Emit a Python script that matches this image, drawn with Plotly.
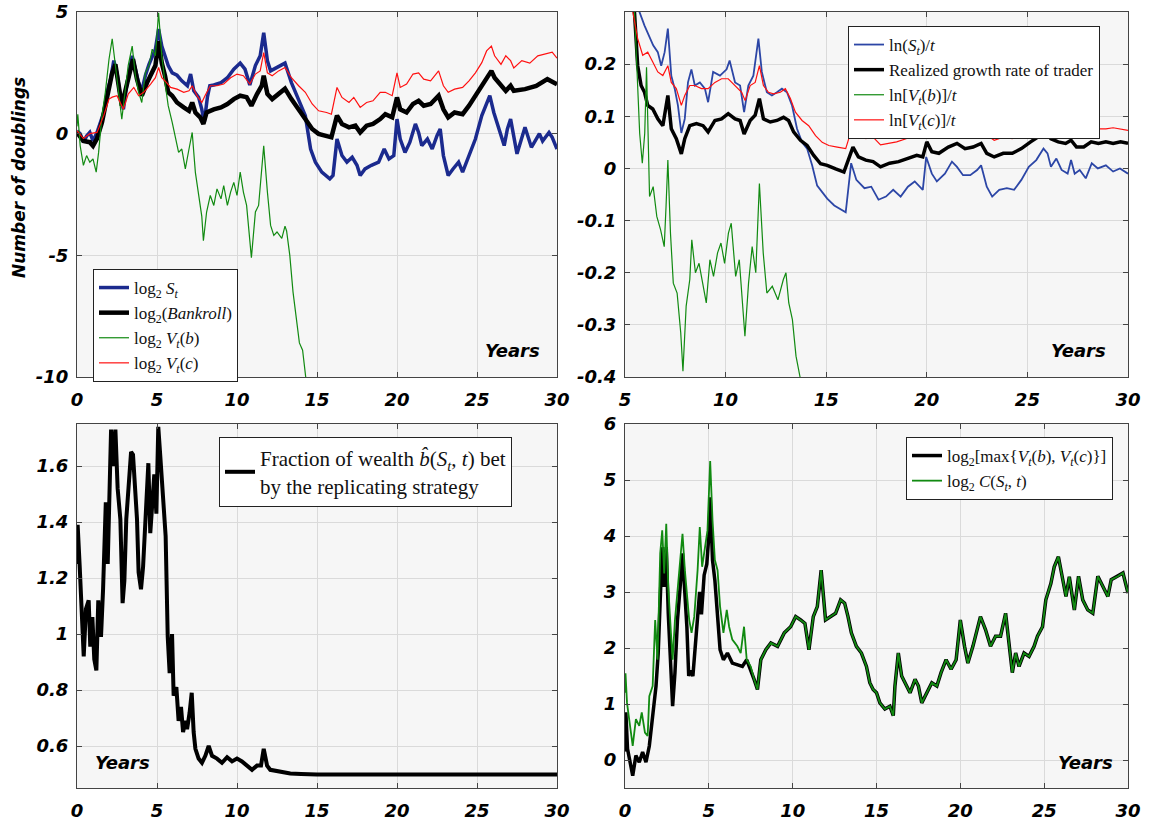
import plotly.graph_objects as go

W, H = 1149, 825

# ---------------- Panel 1: number of doublings ----------------
t_S = [0, 0.2, 0.4, 0.6, 0.8, 1.0, 1.25, 1.45, 1.67, 1.9, 2.1, 2.3, 2.5, 2.7, 2.9, 3.1, 3.45, 3.65, 3.85, 4.05,
       4.27, 4.5, 4.7, 4.9, 5.1, 5.3, 5.5, 5.7, 5.95, 6.25, 6.55, 6.9, 7.1, 7.3, 7.6, 7.8, 7.95, 8.15, 8.3, 8.55,
       9.0, 9.4, 9.8, 10.2, 10.5, 10.8, 11.15, 11.45, 11.67, 11.9, 12.1, 12.4, 12.7, 13.0, 13.4, 13.85, 14.27,
       14.6, 14.9, 15.3, 15.8, 16.0, 16.25, 16.56, 16.87, 17.2, 17.5, 17.7, 18.0, 18.4, 18.85, 19.2, 19.5, 19.8,
       20.0, 20.2, 20.5, 20.8, 21.15, 21.35, 21.55, 21.9, 22.2, 22.5, 22.7, 22.9, 23.2, 23.5, 23.85, 24.1, 24.5,
       24.9, 25.3, 25.6, 25.8, 26.05, 26.4, 26.7, 26.9, 27.1, 27.5, 28.0, 28.4, 28.9, 29.1, 29.5, 29.7, 30.0]
log2_S = [0.12, 0, -0.35, -0.1, 0.05, -0.3, 0.05, 0.45, 0.87, 1.76, 2.24, 3.0, 2.5, 1.55, 1.0, 1.97, 3.2, 2.65,
          2.1, 1.76, 2.38, 2.85, 3.2, 3.47, 4.3, 3.6, 3.2, 2.8, 2.5, 2.4, 2.17, 1.97, 2.45, 1.76, 1.5, 1.0, 0.45,
          1.5, 1.97, 2.0, 2.1, 2.3, 2.65, 2.9, 2.65, 2.0, 2.8, 3.2, 4.15, 3.0, 2.58, 2.7, 2.8, 2.9, 2.1, 1.4, 0.74,
          -0.63, -1.17, -1.58, -1.86, -1.72, -0.22, -0.9, -1.17, -0.97, -1.3, -1.72, -1.45, -1.3, -1.17, -0.63,
          -1.04, -0.9, 0.6, -0.22, -0.77, -0.36, 0.4, 0.05, -0.49, -0.22, -0.63, -0.08, 0.19, -0.9, -1.72, -1.45,
          -1.17, -1.58, -0.9, -0.22, 0.74, 1.28, 1.56, 0.87, 0.19, -0.49, 0.19, 0.6, -0.83, 0.26, -0.56, 0, -0.3,
          0.05, -0.15, -0.63]

t_bank = [0, 0.4, 0.8, 1.0, 1.25, 1.56, 1.9, 2.2, 2.4, 2.6, 2.8, 3.0, 3.33, 3.5, 3.75, 4.05, 4.38, 4.7, 4.9, 5.1,
          5.3, 5.5, 5.7, 5.95, 6.25, 6.67, 7.0, 7.2, 7.4, 7.7, 7.9, 8.1, 8.55, 9.0, 9.4, 9.8, 10.2, 10.6, 10.9,
          11.25, 11.55, 11.67, 11.9, 12.2, 12.6, 13.0, 13.4, 13.85, 14.27, 14.7, 15.1, 15.5, 15.9, 16.25, 16.56,
          17.0, 17.4, 17.7, 18.1, 18.5, 18.95, 19.27, 19.7, 20.0, 20.2, 20.6, 21.0, 21.35, 21.67, 22.1, 22.6,
          22.9, 23.2, 23.6, 24.1, 24.5, 24.9, 25.3, 25.6, 25.9, 26.1, 26.5, 26.8, 27.1, 27.3, 28.0, 28.7, 29.4,
          30.0]
log2_bank = [0.05, -0.3, -0.35, -0.5, -0.2, 0.46, 1.56, 2.5, 2.85, 2.1, 1.15, 1.7, 2.65, 3.06, 2.24, 1.56, 2.1,
             2.5, 2.8, 3.8, 2.9, 2.38, 1.7, 1.56, 1.28, 1.08, 0.94, 1.28, 0.87, 0.67, 0.4, 0.87, 1.0, 1.08, 1.22,
             1.42, 1.56, 1.5, 1.15, 1.63, 1.97, 2.38, 1.63, 1.42, 1.63, 1.85, 1.42, 1.0, 0.6, 0.19, -0.01, -0.08,
             -0.15, 0.74, 0.4, 0.26, 0.33, 0.05, 0.33, 0.4, 0.6, 0.8, 0.67, 1.49, 1.0, 0.87, 1.22, 1.35, 1.15,
             1.22, 1.56, 1.0, 0.67, 0.87, 0.8, 1.15, 1.56, 1.97, 2.3, 2.58, 2.3, 1.97, 1.76, 1.97, 1.76, 1.83,
             1.96, 2.24, 2.03]

t_Vb = [0, 0.05, 0.2, 0.4, 0.6, 0.8, 1.0, 1.2, 1.35, 1.56, 1.77, 2.0, 2.2, 2.4, 2.6, 2.8, 3.0, 3.2, 3.45, 3.65,
        3.85, 4.05, 4.27, 4.5, 4.7, 4.9, 5.1, 5.3, 5.5, 5.7, 5.95, 6.15, 6.35, 6.55, 6.77, 7.0, 7.2, 7.4, 7.6,
        7.8, 7.9, 8.1, 8.33, 8.55, 8.75, 9.0, 9.17, 9.4, 9.6, 9.8, 10.0, 10.2, 10.4, 10.6, 10.9, 11.15, 11.35,
        11.55, 11.67, 11.9, 12.1, 12.3, 12.5, 12.8, 13.0, 13.1, 13.3, 13.5, 13.7, 13.9, 14.1, 14.3, 14.4]
log2_Vb = [0.3, 0.8, -0.5, -1.3, -0.9, -1.17, -1.04, -1.58, -0.77, 0.74, 1.7, 3.06, 3.9, 2.8, 1.83, 0.6, 1.7,
           2.8, 3.6, 2.38, 1.7, 1.28, 2.5, 2.8, 3.47, 3.2, 4.97, 3.2, 2.1, 1.15, 0.46, -0.22, -0.77, -0.63, -1.45,
           -0.63, 0.05, -1.6, -2.5, -3.4, -4.4, -3.22, -2.54, -2.95, -2.27, -2.68, -2.13, -2.95, -2.4, -2.0,
           -2.54, -1.58, -2.4, -2.95, -5.1, -3.22, -2.95, -1.58, -0.5, -2.4, -3.77, -4.18, -4.04, -4.3, -3.8,
           -4.0, -5.0, -6.5, -7.5, -8.6, -8.9, -10.0, -10.6]

t_Vc = [0, 0.4, 0.8, 1.25, 1.67, 2.0, 2.2, 2.5, 2.7, 2.9, 3.2, 3.55, 3.85, 4.17, 4.6, 4.9, 5.1, 5.3, 5.6, 5.85,
        6.25, 6.67, 7.0, 7.2, 7.5, 7.8, 8.0, 8.33, 8.75, 9.17, 9.6, 10.0, 10.4, 10.8, 11.15, 11.45, 11.67, 11.9,
        12.2, 12.6, 13.0, 13.4, 13.85, 14.27, 14.7, 15.1, 15.6, 15.9, 16.25, 16.56, 17.0, 17.3, 17.7, 18.1, 18.5,
        18.95, 19.27, 19.7, 20.0, 20.2, 20.6, 21.0, 21.35, 21.67, 22.1, 22.6, 22.9, 23.2, 23.6, 24.1, 24.5, 24.9,
        25.3, 25.6, 25.9, 26.1, 26.5, 26.8, 27.1, 27.3, 27.8, 28.3, 28.8, 29.3, 29.7, 30.0]
log2_Vc = [0.12, -0.2, 0, 0.05, 0.74, 1.42, 1.5, 1.56, 1.28, 1.0, 1.63, 1.9, 1.56, 1.7, 2.04, 2.3, 2.72, 2.3,
           2.1, 1.9, 1.83, 1.7, 1.76, 1.97, 1.56, 1.28, 1.56, 1.97, 1.97, 2.04, 2.3, 2.45, 2.38, 2.04, 2.45,
           2.58, 3.33, 2.5, 2.38, 2.58, 2.72, 2.3, 1.97, 1.7, 1.22, 0.94, 0.87, 0.8, 1.9, 1.49, 1.28, 1.49, 1.08,
           1.28, 1.35, 1.7, 1.7, 1.56, 2.5, 1.9, 2.04, 2.45, 2.5, 2.24, 2.17, 2.58, 1.97, 1.7, 1.83, 1.9, 2.17,
           2.5, 2.92, 3.4, 3.6, 3.2, 2.85, 3.2, 3.0, 2.7, 3.0, 2.9, 3.2, 3.3, 3.35, 3.1]

# ---------------- Panel 2: growth rates ----------------
t_rS = [5.6, 5.72, 5.97, 6.2, 6.4, 6.63, 6.8, 6.97, 7.13, 7.3, 7.47, 7.63, 7.8, 7.97, 8.13, 8.3, 8.47, 8.72, 8.97,
        9.13, 9.38, 9.72, 10.05, 10.2, 10.47, 10.72, 10.92, 11.13, 11.38, 11.63, 11.8, 12.05, 12.3, 12.55, 12.8,
        13.05, 13.3, 13.55, 13.8, 14.05, 14.3, 14.55, 14.8, 15.05, 15.4, 15.7, 15.97, 16.24, 16.5, 16.9, 17.24,
        17.6, 17.97, 18.33, 18.7, 19.06, 19.4, 19.8, 19.97, 20.25, 20.5, 20.9, 21.25, 21.5, 21.8, 22.16, 22.5,
        22.7, 22.98, 23.25, 23.6, 23.98, 24.34, 24.7, 25.07, 25.44, 25.8, 26.0, 26.17, 26.44, 26.7, 27.0, 27.17,
        27.35, 27.6, 27.9, 28.2, 28.5, 28.9, 29.26, 29.6, 30.0]
rate_S = [0.33, 0.3, 0.274, 0.255, 0.236, 0.223, 0.197, 0.223, 0.268, 0.178, 0.153, 0.121, 0.068, 0.095, 0.165,
          0.19, 0.159, 0.165, 0.153, 0.127, 0.185, 0.178, 0.19, 0.207, 0.165, 0.159, 0.108, 0.159, 0.178, 0.249,
          0.185, 0.146, 0.14, 0.146, 0.153, 0.146, 0.121, 0.076, 0.05, 0.038, 0.006, -0.033, -0.045, -0.058,
          -0.071, -0.077, -0.084, 0.01, -0.022, -0.038, -0.035, -0.06, -0.054, -0.041, -0.054, -0.035, -0.025,
          -0.041, 0.022, -0.01, -0.025, -0.01, 0.013, 0.003, -0.013, -0.013, -0.003, 0.006, -0.035, -0.054,
          -0.041, -0.038, -0.041, -0.022, 0.003, 0.016, 0.038, 0.029, 0.003, 0.019, -0.003, -0.01, 0.016, -0.01,
          -0.003, -0.019, 0.01, 0, 0.006, -0.006, 0, -0.01]

t_rT = [5.3, 5.47, 5.63, 5.8, 5.97, 6.13, 6.38, 6.63, 6.88, 7.13, 7.3, 7.55, 7.8, 7.97, 8.22, 8.55, 8.88, 9.13,
        9.47, 9.8, 10.13, 10.47, 10.72, 10.92, 11.22, 11.47, 11.68, 11.88, 12.22, 12.55, 12.88, 13.13, 13.38,
        13.72, 14.05, 14.38, 14.72, 15.05, 15.47, 15.88, 16.33, 16.6, 16.97, 17.33, 17.7, 18.15, 18.6, 19.06,
        19.5, 19.8, 20.0, 20.25, 20.6, 21.07, 21.5, 21.9, 22.3, 22.7, 22.98, 23.35, 23.8, 24.25, 24.7, 25.16,
        25.53, 25.9, 26.17, 26.53, 26.9, 27.17, 27.44, 27.8, 28.17, 28.53, 28.9, 29.26, 29.63, 30.0]
rate_trader = [0.34, 0.3, 0.197, 0.159, 0.146, 0.121, 0.114, 0.095, 0.082, 0.14, 0.076, 0.057, 0.028, 0.057,
               0.082, 0.086, 0.082, 0.07, 0.092, 0.095, 0.105, 0.095, 0.092, 0.066, 0.092, 0.102, 0.134, 0.095,
               0.089, 0.092, 0.098, 0.092, 0.07, 0.054, 0.044, 0.025, 0.009, 0.006, -0.001, -0.007, 0.041, 0.022,
               0.016, 0.013, 0.003, 0.01, 0.013, 0.019, 0.025, 0.022, 0.051, 0.032, 0.029, 0.041, 0.048, 0.038,
               0.041, 0.048, 0.029, 0.022, 0.029, 0.029, 0.038, 0.051, 0.06, 0.07, 0.057, 0.051, 0.048, 0.054,
               0.041, 0.041, 0.051, 0.048, 0.051, 0.048, 0.051, 0.048]

t_rVb = [5.45, 5.58, 5.73, 5.86, 5.98, 6.07, 6.22, 6.4, 6.58, 6.77, 6.95, 7.04, 7.13, 7.26, 7.4, 7.59, 7.77, 7.88,
         8.04, 8.22, 8.32, 8.5, 8.68, 8.86, 9.04, 9.22, 9.4, 9.6, 9.77, 9.95, 10.14, 10.28, 10.5, 10.68, 10.96,
         11.14, 11.32, 11.5, 11.68, 11.87, 12.05, 12.32, 12.6, 12.87, 13.0, 13.14, 13.32, 13.5, 13.7, 13.8]
rate_Vb = [0.32, 0.194, 0.067, 0.01, 0.067, 0.194, -0.054, -0.035, -0.092, -0.118, -0.15, -0.073, 0.016, -0.124,
           -0.22, -0.239, -0.315, -0.389, -0.264, -0.213, -0.137, -0.2, -0.182, -0.22, -0.258, -0.175, -0.207,
           -0.162, -0.143, -0.182, -0.124, -0.105, -0.207, -0.175, -0.322, -0.22, -0.15, -0.2, -0.029, -0.162,
           -0.239, -0.226, -0.252, -0.213, -0.2, -0.258, -0.29, -0.36, -0.4, -0.45]

t_rVc = [5.2, 5.38, 5.63, 5.88, 6.13, 6.38, 6.63, 6.88, 7.13, 7.3, 7.55, 7.8, 7.97, 8.22, 8.47, 8.8, 9.13, 9.47,
         9.8, 10.13, 10.47, 10.8, 10.97, 11.22, 11.47, 11.68, 11.88, 12.13, 12.38, 12.72, 12.97, 13.22, 13.47,
         13.8, 14.13, 14.47, 14.8, 15.13, 15.55, 15.97, 16.33, 16.6, 16.97, 17.33, 17.7, 18.06, 18.5, 18.97,
         19.43, 19.8, 20.0, 20.25, 20.6, 21.07, 21.5, 21.9, 22.3, 22.7, 22.98, 23.35, 23.8, 24.25, 24.7, 25.16,
         25.53, 25.9, 26.17, 26.53, 26.9, 27.17, 27.44, 27.8, 28.17, 28.53, 28.9, 29.26, 29.63, 30.0]
rate_Vc = [0.34, 0.3, 0.249, 0.217, 0.223, 0.204, 0.185, 0.178, 0.197, 0.165, 0.153, 0.121, 0.14, 0.159, 0.159,
           0.153, 0.153, 0.165, 0.172, 0.172, 0.159, 0.146, 0.13, 0.159, 0.165, 0.197, 0.159, 0.146, 0.143,
           0.146, 0.153, 0.134, 0.108, 0.092, 0.082, 0.063, 0.05, 0.044, 0.041, 0.038, 0.083, 0.07, 0.057, 0.06,
           0.045, 0.048, 0.051, 0.057, 0.064, 0.06, 0.086, 0.067, 0.06, 0.076, 0.08, 0.07, 0.073, 0.08, 0.064,
           0.054, 0.06, 0.057, 0.067, 0.08, 0.086, 0.096, 0.083, 0.076, 0.07, 0.083, 0.07, 0.067, 0.08, 0.076,
           0.076, 0.078, 0.076, 0.073]

# ---------------- Panel 3: fraction of wealth bet ----------------
t_frac = [0, 0.04, 0.17, 0.3, 0.42, 0.56, 0.73, 0.83, 0.96, 1.08, 1.21, 1.33, 1.5, 1.63, 1.8, 1.92, 2.04, 2.13,
          2.25, 2.4, 2.54, 2.71, 2.85, 2.96, 3.08, 3.23, 3.38, 3.5, 3.63, 3.75, 3.85, 4.0, 4.13, 4.25, 4.38, 4.46,
          4.58, 4.7, 4.83, 4.96, 5.08, 5.2, 5.38, 5.54, 5.67, 5.79, 5.94, 6.04, 6.21, 6.35, 6.5, 6.63, 6.77, 6.88,
          7.04, 7.17, 7.29, 7.4, 7.6, 7.81, 8.02, 8.23, 8.44, 8.75, 9.06, 9.38, 9.69, 10.0, 10.31, 10.63, 10.94,
          11.25, 11.5, 11.67, 11.88, 12.08, 12.5, 12.92, 13.33, 14.0, 15.0, 20.0, 25.0, 30.0]
frac_bet = [1.25, 1.39, 1.24, 1.1, 0.92, 1.09, 1.12, 0.955, 1.06, 0.91, 0.87, 1.12, 0.99, 1.16, 1.47, 1.25, 1.47,
            1.73, 1.6, 1.73, 1.52, 1.41, 1.11, 1.19, 1.41, 1.55, 1.65, 1.64, 1.52, 1.41, 1.22, 1.16, 1.24, 1.36,
            1.52, 1.61, 1.36, 1.47, 1.57, 1.43, 1.74, 1.64, 1.47, 1.35, 0.99, 0.86, 1.0, 0.78, 0.81, 0.69, 0.74,
            0.65, 0.69, 0.66, 0.72, 0.79, 0.65, 0.59, 0.555, 0.54, 0.565, 0.6, 0.565, 0.555, 0.54, 0.56, 0.545,
            0.555, 0.545, 0.53, 0.515, 0.53, 0.53, 0.59, 0.53, 0.515, 0.51, 0.507, 0.502, 0.5, 0.498, 0.498,
            0.498, 0.498]

# ---------------- Panel 4: max option value vs C(S,t) ----------------
t_max_early = [0, 0.05, 0.15, 0.26, 0.46, 0.65, 0.85, 1.05, 1.25, 1.45, 1.65, 1.85, 1.98, 2.1, 2.22, 2.34, 2.46,
               2.58, 2.74, 2.84, 2.98, 3.13, 3.29, 3.43, 3.57, 3.69, 3.8, 3.9, 4.05, 4.2, 4.35, 4.45, 4.56, 4.72,
               4.88, 5.0, 5.08, 5.22, 5.36, 5.52, 5.67, 5.87, 6.11, 6.4, 6.7, 7.0, 7.26, 7.5, 7.7]
max_early = [0.15, 0.85, 0.2, 0.02, -0.28, 0.08, -0.04, 0.14, -0.04, 0.25, 0.73, 1.32, 1.91, 3.09, 3.8, 3.09,
             3.8, 2.62, 1.56, 0.96, 1.56, 2.5, 3.09, 3.69, 2.98, 2.38, 1.5, 1.6, 1.5, 2.0, 2.5, 3.0, 2.6, 3.3,
             3.5, 4.0, 4.69, 3.57, 3.21, 2.5, 1.97, 1.79, 1.91, 1.73, 1.7, 1.67, 1.79, 1.62, 1.44]

t_C_early = [0, 0.03, 0.12, 0.26, 0.46, 0.65, 0.85, 1.0, 1.19, 1.35, 1.45, 1.65, 1.8, 1.94, 2.1, 2.22, 2.34, 2.46,
             2.58, 2.74, 2.84, 2.98, 3.13, 3.29, 3.43, 3.57, 3.69, 3.83, 3.97, 4.13, 4.33, 4.46, 4.6, 4.76, 4.92,
             5.08, 5.22, 5.36, 5.52, 5.67, 5.87, 6.07, 6.21, 6.4, 6.7, 6.9, 7.1, 7.26, 7.5, 7.7]
C_early = [1.2, 1.55, 1.02, 0.73, 0.25, 0.73, 0.61, 0.85, 0.49, 0.43, 1.14, 1.32, 2.5, 1.79, 3.69, 4.1, 3.33,
           4.22, 3.09, 2.27, 1.79, 2.5, 2.98, 3.57, 4.04, 3.39, 2.98, 2.5, 2.27, 2.56, 3.39, 4.16, 3.45, 3.8, 4.1,
           5.34, 4.28, 3.57, 3.39, 2.74, 2.27, 2.68, 2.38, 2.15, 2.03, 1.91, 2.38, 1.79, 1.67, 1.44]

t_tail = [7.9, 8.1, 8.4, 8.7, 9.1, 9.5, 9.88, 10.18, 10.48, 10.73, 10.97, 11.23, 11.47, 11.7, 11.96, 12.26, 12.56,
          12.86, 13.1, 13.3, 13.5, 13.8, 14.1, 14.4, 14.6, 14.8, 15.0, 15.2, 15.5, 15.8, 16.0, 16.1, 16.3, 16.5,
          16.7, 17.0, 17.3, 17.5, 17.7, 18.0, 18.3, 18.6, 18.85, 19.15, 19.45, 19.75, 20.0, 20.25, 20.45, 20.75,
          21.0, 21.2, 21.5, 21.8, 22.1, 22.4, 22.7, 22.9, 23.1, 23.3, 23.5, 23.8, 24.1, 24.4, 24.6, 24.9, 25.1,
          25.4, 25.6, 25.85, 26.1, 26.3, 26.5, 26.8, 27.05, 27.3, 27.6, 27.9, 28.2, 28.5, 28.8, 29.0, 29.4, 29.7,
          30.0]
tail_vals = [1.26, 1.79, 1.97, 2.09, 2.03, 2.27, 2.38, 2.56, 2.5, 2.44, 1.97, 2.56, 2.74, 3.39, 2.5, 2.56, 2.62,
             2.86, 2.8, 2.56, 2.27, 2.03, 1.91, 1.67, 1.38, 1.26, 1.2, 1.02, 0.91, 0.96, 0.79, 1.32, 1.91, 1.5,
             1.38, 1.2, 1.44, 1.32, 1.02, 1.2, 1.38, 1.32, 1.56, 1.79, 1.62, 1.79, 2.5, 2.03, 1.73, 2.03, 2.33,
             2.56, 2.33, 2.03, 2.21, 2.21, 2.62, 2.03, 1.56, 1.91, 1.67, 1.91, 1.85, 2.03, 2.21, 2.38, 2.86, 3.15,
             3.45, 3.63, 3.21, 2.92, 3.27, 2.68, 3.28, 2.86, 2.68, 2.62, 3.28, 3.1, 2.92, 3.22, 3.28, 3.34, 2.98]

# tick labels
xt_full = [0, 5, 10, 15, 20, 25, 30]
xt_p2 = [5, 10, 15, 20, 25, 30]
yt_p1 = [-10, -5, 0, 5]
yt_p2 = [-0.4, -0.3, -0.2, -0.1, 0, 0.1, 0.2]
yt_p2_txt = ["-0.4", "-0.3", "-0.2", "-0.1", "0", "0.1", "0.2"]
yt_p3 = [0.6, 0.8, 1, 1.2, 1.4, 1.6]
yt_p3_txt = ["0.6", "0.8", "1", "1.2", "1.4", "1.6"]
yt_p4 = [0, 1, 2, 3, 4, 5, 6]

# ---------------- styling ----------------
NAVY = "#1b2a8e"
BLUE2 = "#2c46a6"
GREEN = "#118a11"
RED = "#ff1010"
LEG_FONT = dict(family="Liberation Serif", size=17, color="#111")

fig = go.Figure()

def add(x, y, xa, ya, name, color, width, legend, showlegend=True):
    fig.add_trace(go.Scatter(x=x, y=y, xaxis=xa, yaxis=ya, name=name, mode="lines",
                             line=dict(color=color, width=width), legend=legend,
                             showlegend=showlegend, hoverinfo="skip"))

# panel 1
add(t_S, log2_S, "x", "y", "log<sub>2</sub> <i>S<sub>t</sub></i>", NAVY, 3.5, "legend")
add(t_bank, log2_bank, "x", "y", "log<sub>2</sub>(<i>Bankroll</i>)", "#000000", 4.5, "legend")
add(t_Vb, log2_Vb, "x", "y", "log<sub>2</sub> <i>V<sub>t</sub></i>(<i>b</i>)", GREEN, 1.2, "legend")
add(t_Vc, log2_Vc, "x", "y", "log<sub>2</sub> <i>V<sub>t</sub></i>(<i>c</i>)", RED, 1.2, "legend")

# panel 2
add(t_rS, rate_S, "x2", "y2", "ln(<i>S<sub>t</sub></i>)/<i>t</i>", BLUE2, 1.8, "legend2")
add(t_rT, rate_trader, "x2", "y2", "Realized growth rate of trader", "#000000", 3.5, "legend2")
add(t_rVb, rate_Vb, "x2", "y2", "ln[<i>V<sub>t</sub></i>(<i>b</i>)]/<i>t</i>", GREEN, 1.2, "legend2")
add(t_rVc, rate_Vc, "x2", "y2", "ln[<i>V<sub>t</sub></i>(<i>c</i>)]/<i>t</i>", RED, 1.2, "legend2")

# panel 3
add(t_frac, frac_bet, "x3", "y3",
    "Fraction of wealth <i>b\u0302</i>(<i>S<sub>t</sub></i>, <i>t</i>) bet<br>by the replicating strategy",
    "#000000", 4, "legend3")

# panel 4
add(t_max_early + t_tail, max_early + tail_vals, "x4", "y4",
    "log<sub>2</sub>[max{<i>V<sub>t</sub></i>(<i>b</i>), <i>V<sub>t</sub></i>(<i>c</i>)}]", "#000000", 3.5, "legend4")
add(t_C_early + t_tail, C_early + tail_vals, "x4", "y4",
    "log<sub>2</sub> <i>C</i>(<i>S<sub>t</sub></i>, <i>t</i>)", GREEN, 1.8, "legend4")

TICK_FONT = dict(family="DejaVu Sans", size=18, color="#000", weight="bold", style="italic")

def ax(domain, rng, tickvals, ticktext, anchor, side):
    d = dict(domain=domain, range=rng, tickvals=tickvals, ticktext=ticktext, anchor=anchor,
             showline=True, linecolor="#444", linewidth=1, mirror="ticks", ticks="inside", ticklen=5,
             tickcolor="#444", showgrid=True, gridcolor="#dadada", gridwidth=1, zeroline=False,
             tickfont=TICK_FONT, fixedrange=True, automargin=False)
    d["ticklabelstandoff"] = 6 if side == "x" else 4
    return d

XL = [77 / W, 557 / W]
XR = [625 / W, 1128 / W]
YT = [1 - 377 / H, 1 - 12 / H]
YB = [1 - 788 / H, 1 - 424 / H]

def fmt(v):
    return [str(a) for a in v]

layout = dict(
    width=W, height=H, margin=dict(l=0, r=0, t=0, b=0, autoexpand=False),
    paper_bgcolor="white", plot_bgcolor="#f6f6f6",
    xaxis=ax(XL, [0, 30], xt_full, fmt(xt_full), "y", "x"),
    yaxis=ax(YT, [-10, 5], yt_p1, fmt(yt_p1), "x", "y"),
    xaxis2=ax(XR, [5, 30], xt_p2, fmt(xt_p2), "y2", "x"),
    yaxis2=ax(YT, [-0.4, 0.3], yt_p2, yt_p2_txt, "x2", "y"),
    xaxis3=ax(XL, [0, 30], xt_full, fmt(xt_full), "y3", "x"),
    yaxis3=ax(YB, [0.45, 1.75], yt_p3, yt_p3_txt, "x3", "y"),
    xaxis4=ax(XR, [0, 30], xt_full, fmt(xt_full), "y4", "x"),
    yaxis4=ax(YB, [-0.5, 6], yt_p4, fmt(yt_p4), "x4", "y"),
    showlegend=True,
)

def leg(x, y, size=17):
    return dict(x=x / W, y=1 - y / H, xanchor="left", yanchor="top", bgcolor="white",
                bordercolor="#222", borderwidth=1, font=dict(LEG_FONT, size=size),
                tracegroupgap=0, itemclick=False, itemdoubleclick=False)

layout["legend"] = leg(93, 269)
layout["legend2"] = leg(848, 26)
layout["legend3"] = leg(219, 437, 21)
layout["legend4"] = leg(906, 437)

YEARS_FONT = dict(family="DejaVu Sans", size=18, color="#000", weight="bold", style="italic")
annots = []
for (px, py) in [(512, 350), (1078, 350), (123, 762), (1085, 762)]:
    annots.append(dict(x=px / W, y=1 - py / H, xref="paper", yref="paper", text="Years",
                       showarrow=False, font=YEARS_FONT, xanchor="center", yanchor="middle"))
annots.append(dict(x=19 / W, y=1 - 178 / H, xref="paper", yref="paper", text="Number of doublings",
                   showarrow=False, textangle=-90, font=dict(YEARS_FONT, size=17),
                   xanchor="center", yanchor="middle"))
layout["annotations"] = annots

fig.update_layout(**layout)
fig.write_html("out.html", config={"displayModeBar": False},
               post_script="document.body.style.margin='0px';document.body.style.overflow='hidden';")
